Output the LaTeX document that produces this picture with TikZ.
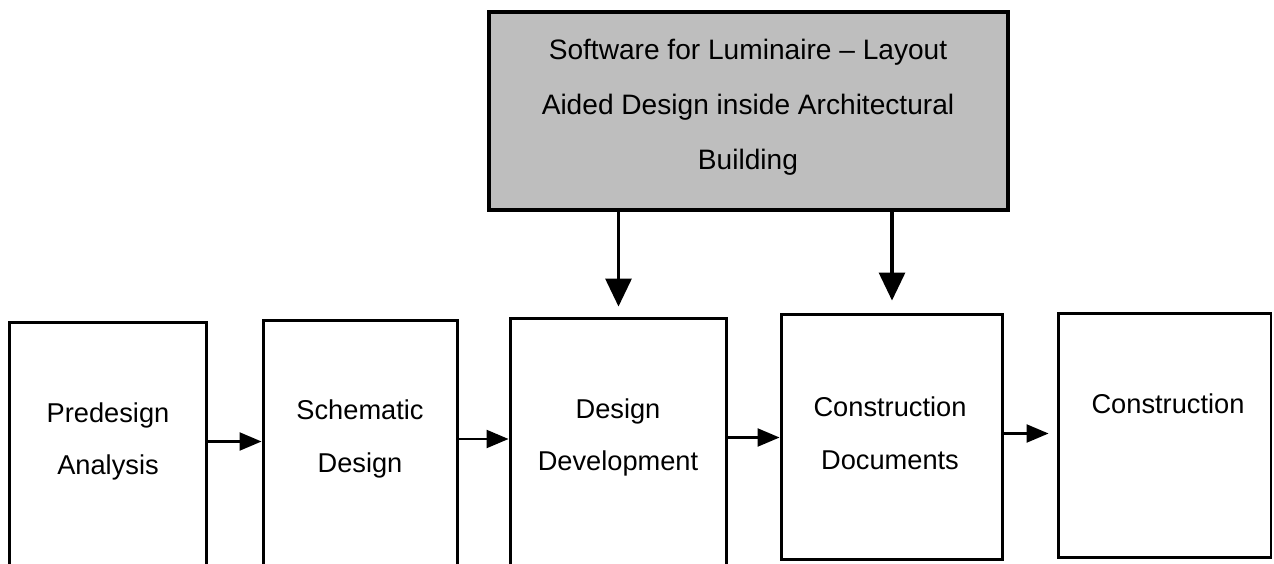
\documentclass[tikz,border=0pt]{standalone}
\usepackage{fontspec}
\setmainfont{Liberation Sans}
\usetikzlibrary{arrows.meta}
\definecolor{swgray}{RGB}{190,190,190}
\tikzset{
  stage/.style    = {draw, line width=1.7pt, inner sep=0pt},          % a design phase
  stagetxt/.style = {align=center, font=\fontsize{15.5}{30}\selectfont},
  swbox/.style    = {draw, line width=2.3pt, fill=swgray, inner sep=0pt}, % the software
  flow/.style     = {line width=1.3pt, -{Triangle[length=4.4mm, width=3.6mm]}},
  feed/.style     = {line width=1.8pt, -{Triangle[length=5.6mm, width=5.2mm]}},
}

\begin{document}
\begin{tikzpicture}[x=0.02cm, y=-0.02cm]
  \useasboundingbox (0,0) rectangle (1274,564);
  \clip (0,0) rectangle (1274,564);
  % software box
  \node[swbox, minimum width=10.38cm, minimum height=3.96cm] (sw) at (748.5,111) {};
  \node[align=center, font=\fontsize{16}{31.3}\selectfont] (sw-txt) at (748,107)
    {Software for Luminaire -- Layout\\Aided Design inside Architectural\\Building};
  % phases
  \node[stage, minimum width=3.96cm, minimum height=5.16cm] (pre) at (108,451) {};
  \node[stage, minimum width=3.90cm, minimum height=5.20cm] (sch) at (360.5,450) {};
  \node[stage, minimum width=4.34cm, minimum height=5.24cm] (dev) at (618.5,449) {};
  \node[stage, minimum width=4.44cm, minimum height=4.92cm] (doc) at (892,437) {};
  \node[stage, minimum width=4.26cm, minimum height=4.90cm] (con) at (1164.5,435.5) {};
  \node[stagetxt] (pre-txt) at (108,441.5) {Predesign\\Analysis};
  \node[stagetxt] (sch-txt) at (360,439) {Schematic\\Design};
  \node[stagetxt] (dev-txt) at (618,437.5) {Design\\Development};
  \node[stagetxt] (doc-txt) at (890,433.5) {Construction\\Documents};
  \node[stagetxt] (con-txt) at (1168,404) {Construction};
  % arrows
  \draw[flow] (pre.east |- pre-txt) -- (sch.west |- pre-txt);
  \draw[flow] (sch.east |- sch-txt) -- (dev.west |- sch-txt);
  \draw[flow] (dev.east |- dev-txt) -- (doc.west |- dev-txt);
  \draw[flow, shorten >=0.16cm] (doc.east |- doc-txt) -- (con.west |- doc-txt);
  \draw[feed, shorten >=0.2cm] (sw.south -| dev) -- (dev.north);
  \draw[feed, shorten >=0.24cm] (sw.south -| doc) -- (doc.north);
\end{tikzpicture}
\end{document}
